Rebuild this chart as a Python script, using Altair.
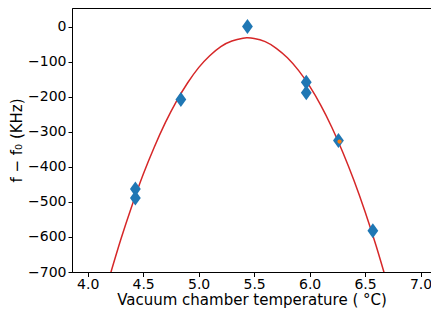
import altair as alt
import pandas as pd

# measured points
temp = [4.43, 4.43, 4.84, 5.44, 5.97, 5.97, 6.26, 6.57]
freq = [-463, -489, -208, 0, -159, -189, -325, -582]

# highlighted point
hl_temp = [6.27]
hl_freq = [-328]

# fitted curve
fit_temp = [4.20, 4.30, 4.40, 4.50, 4.60, 4.70, 4.80, 4.90, 5.00, 5.10, 5.20, 5.30,
            5.40, 5.44, 5.50, 5.60, 5.70, 5.80, 5.90, 6.00, 6.10, 6.20, 6.30, 6.40,
            6.50, 6.60, 6.70]
fit_freq = [-711, -606, -510, -422, -344, -274, -213, -161, -117, -83, -57, -41,
            -33, -32, -34, -43, -62, -89, -125, -170, -224, -287, -359, -439,
            -528, -626, -733]

x_ticks = [4.0, 4.5, 5.0, 5.5, 6.0, 6.5, 7.0]
y_ticks = [0, -100, -200, -300, -400, -500, -600, -700]

FONT = "DejaVu Sans"

pts = pd.DataFrame({"t": temp, "f": freq})
hl = pd.DataFrame({"t": hl_temp, "f": hl_freq})
fit = pd.DataFrame({"t": fit_temp, "f": fit_freq})

xs = alt.Scale(domain=[3.859, 7.094], nice=False, zero=False)
ys = alt.Scale(domain=[-700, 53], nice=False, zero=False)

xax = alt.Axis(values=x_ticks, format=".1f", title="Vacuum chamber temperature ( °C)",
               grid=False, tickSize=4.5, labelPadding=1, titlePadding=1,
               titleFontSize=15)
yax = alt.Axis(values=y_ticks, format="d", title="f − f₀ (KHz)",
               grid=False, tickSize=4, labelPadding=2, titlePadding=3,
               titleFontSize=15)

x = alt.X("t:Q", scale=xs, axis=xax)
y = alt.Y("f:Q", scale=ys, axis=yax)

line = alt.Chart(fit).mark_line(color="#d62728", strokeWidth=1.5, clip=True,
                                interpolate="natural").encode(x=x, y=y)

diamond = "M0,-1L0.72,0L0,1L-0.72,0Z"
points = alt.Chart(pts).mark_point(shape=diamond, filled=True, opacity=1,
                                   color="#1f77b4", size=225).encode(x=x, y=y)

hlp = alt.Chart(hl).mark_point(shape="circle", filled=True, opacity=1,
                               color="#ff7f0e", size=18).encode(x=x, y=y)

chart = (line + points + hlp).properties(
    width=359, height=264,
    autosize=alt.AutoSizeParams(type="none"),
    padding={"left": 64, "top": 0, "right": 0, "bottom": 36},
).configure_view(stroke="black", strokeWidth=1).configure_axis(
    labelFont=FONT, titleFont=FONT, labelFontSize=14,
    titleFontWeight="normal", labelColor="#000000", titleColor="#000000",
    domainColor="#000000", tickColor="#000000", domainWidth=1, tickWidth=1,
)

chart.save("out.html", embed_options={"renderer": "svg", "actions": False})
